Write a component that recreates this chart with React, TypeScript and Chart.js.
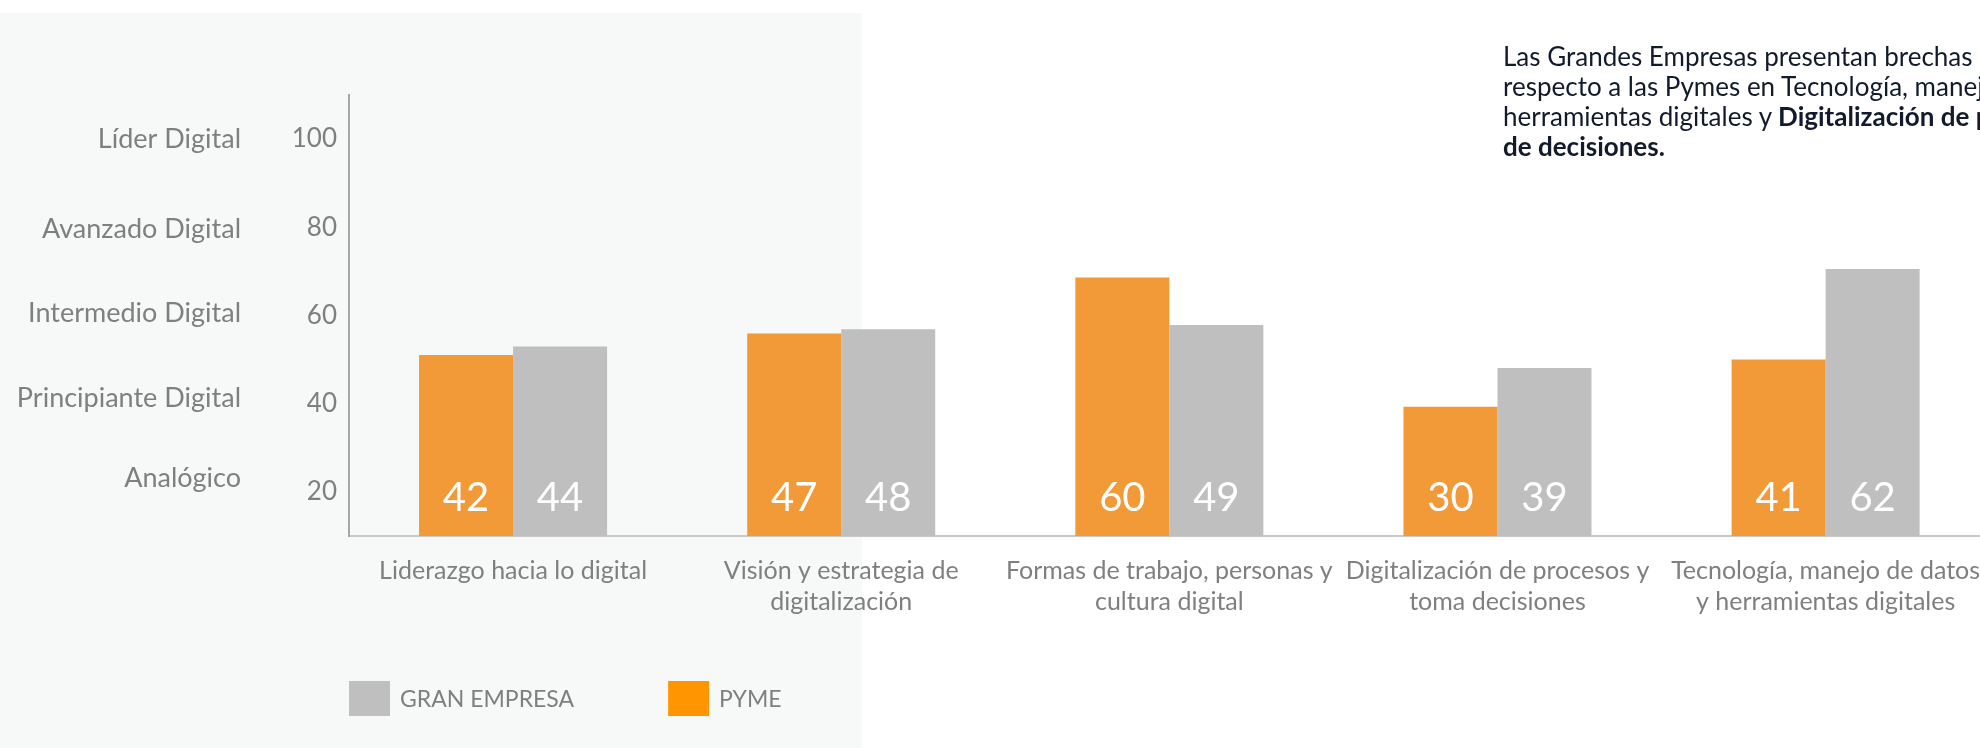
import React, { useEffect, useRef } from "react";
import { Chart, registerables } from "chart.js";

Chart.register(...registerables);

// ---- data ----
const categories: string[][] = [
  ["Liderazgo hacia lo digital"],
  ["Visión y estrategia de", "digitalización"],
  ["Formas de trabajo, personas y", "cultura digital"],
  ["Digitalización de procesos y", "toma decisiones"],
  ["Tecnología, manejo de datos", "y herramientas digitales"],
];
const seriesNames = ["PYME", "GRAN EMPRESA"];
const pymeValues = [42, 47, 60, 30, 41];
const granEmpresaValues = [44, 48, 49, 39, 62];
const scoreTicks = [20, 40, 60, 80, 100];
const levelNames = ["Analógico", "Principiante Digital", "Intermedio Digital", "Avanzado Digital", "Líder Digital"];
const levelTickValues = [23, 41.2, 60.5, 79.5, 100];
const legendOrder = [1, 0];

// ---- styles ----
const barColors = ["#F29A38", "#BFBFBF"];
const legendColors = ["#FF9500", "#BFBFBF"];
const axisText = "#7F7F7F";
const FONT = "Lato";

const valueLabelPlugin = {
  id: "valueLabels",
  afterDatasetsDraw(chart: any) {
    const ctx = chart.ctx;
    ctx.save();
    ctx.font = `40px ${FONT}`;
    ctx.fillStyle = "#FFFFFF";
    ctx.textAlign = "center";
    ctx.textBaseline = "alphabetic";
    chart.data.datasets.forEach((ds: any, di: number) => {
      const meta = chart.getDatasetMeta(di);
      meta.data.forEach((bar: any, i: number) => {
        const { x, base } = bar.getProps(["x", "base"], true);
        ctx.fillText(String(ds.data[i]), x, base - 25);
      });
    });
    ctx.restore();
  },
};

const legendPlugin = {
  id: "bottomLegend",
  afterDraw(chart: any) {
    const ctx = chart.ctx;
    const boxW = 41;
    const boxH = 35;
    let x = chart.chartArea.left;
    const y = chart.chartArea.bottom + 145;
    ctx.save();
    ctx.font = `23px ${FONT}`;
    ctx.textAlign = "left";
    ctx.textBaseline = "middle";
    legendOrder.forEach((di) => {
      const label = chart.data.datasets[di].label as string;
      ctx.fillStyle = legendColors[di];
      ctx.fillRect(x, y, boxW, boxH);
      ctx.fillStyle = axisText;
      const tx = x + boxW + 10;
      ctx.fillText(label, tx, y + 19);
      x = tx + ctx.measureText(label).width + 94;
    });
    ctx.restore();
  },
};

export default function App() {
  const ref = useRef<HTMLCanvasElement | null>(null);

  useEffect(() => {
    if (!ref.current) return;
    Chart.defaults.font.family = FONT;
    const chart = new Chart(ref.current, {
      type: "bar",
      data: {
        labels: categories,
        datasets: [
          {
            label: seriesNames[0],
            data: pymeValues,
            backgroundColor: barColors[0],
            borderWidth: 0,
            categoryPercentage: 0.573,
            barPercentage: 1,
          },
          {
            label: seriesNames[1],
            data: granEmpresaValues,
            backgroundColor: barColors[1],
            borderWidth: 0,
            categoryPercentage: 0.573,
            barPercentage: 1,
          },
        ],
      },
      options: {
        responsive: false,
        animation: false,
        layout: { padding: { left: 0, right: 9, top: 95, bottom: 67 } },
        plugins: {
          tooltip: { enabled: false },
          legend: { display: false },
        },
        scales: {
          x: {
            offset: true,
            grid: { display: false, drawTicks: false },
            border: { display: true, color: "#C8C8C8", width: 2 },
            ticks: {
              color: axisText,
              font: { family: FONT, size: 25, lineHeight: 1.26 },
              padding: 19,
              autoSkip: false,
              maxRotation: 0,
              minRotation: 0,
            },
            afterFit: (s: any) => {
              s.height = 145;
            },
          },
          y: { display: false, min: 0, max: 102.4 },
          yScore: {
            position: "left",
            weight: 0,
            min: 10,
            max: 110,
            afterBuildTicks: (s: any) => {
              s.ticks = scoreTicks.map((v) => ({ value: v }));
            },
            grid: { display: false, drawTicks: false },
            border: { display: true, color: "#A6A6A6", width: 2 },
            ticks: { color: axisText, font: { family: FONT, size: 26 }, padding: 12 },
            afterFit: (s: any) => {
              s.width = 62;
            },
          },
          yLevel: {
            position: "left",
            weight: 1,
            min: 10,
            max: 110,
            afterBuildTicks: (s: any) => {
              s.ticks = levelTickValues.map((v) => ({ value: v }));
            },
            grid: { display: false, drawTicks: false },
            border: { display: false },
            ticks: {
              color: axisText,
              font: { family: FONT, size: 27 },
              padding: 46,
              callback: (_v: any, i: number) => levelNames[i],
            },
            afterFit: (s: any) => {
              s.width = 287;
            },
          },
        } as any,
      },
      plugins: [valueLabelPlugin, legendPlugin],
    } as any);
    return () => chart.destroy();
  }, []);

  return (
    <div
      style={{
        position: "fixed",
        left: 0,
        top: 0,
        width: 1980,
        height: 748,
        overflow: "hidden",
        background: "#FFFFFF",
      }}
    >
      <div style={{ position: "absolute", left: 0, top: 13, width: 862, height: 735, background: "#F7F8F8" }} />
      <canvas
        ref={ref}
        width={2000}
        height={748}
        style={{ position: "absolute", left: 0, top: 0, width: 2000, height: 748 }}
      />
      <div
        style={{
          position: "absolute",
          left: 1503,
          top: 41,
          fontFamily: FONT,
          fontSize: 26,
          lineHeight: "30px",
          color: "#111B2B",
          whiteSpace: "nowrap",
        }}
      >
        <div>Las Grandes Empresas presentan brechas</div>
        <div>respecto a las Pymes en Tecnología, manejo de datos y</div>
        <div>
          herramientas digitales y <b>Digitalización de procesos y toma</b>
        </div>
        <div>
          <b>de decisiones.</b>
        </div>
      </div>
    </div>
  );
}
